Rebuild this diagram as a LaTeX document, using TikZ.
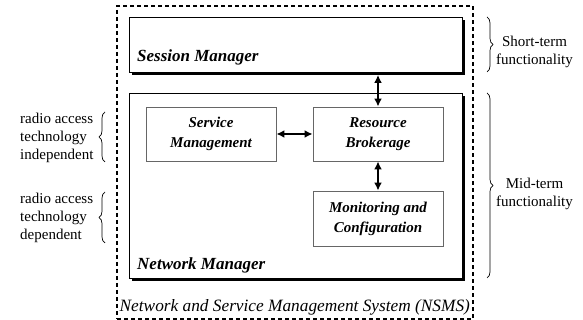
\documentclass[tikz,border=0pt]{standalone}
\usepackage{fontspec}
\setmainfont{Liberation Serif}
\usetikzlibrary{arrows.meta,decorations.pathreplacing,shadows}
\begin{document}
\begin{tikzpicture}[x=1pt,y=1pt,
  outerbox/.style={draw=black,line width=0.9pt,fill=white,inner sep=0pt,
    drop shadow={shadow xshift=3.2pt,shadow yshift=-3.2pt,opacity=1,fill=black}},
  innerbox/.style={draw=black!60,line width=0.9pt,fill=white,align=center,inner sep=0pt,
    font=\fontsize{15}{20}\selectfont\bfseries\itshape},
  boxlabel/.style={anchor=base west,inner sep=0pt,font=\fontsize{17}{20}\selectfont\bfseries\itshape},
  biarrow/.style={{Latex[length=8pt,width=8pt]}-{Latex[length=8pt,width=8pt]},line width=1.8pt},
  brc/.style={decorate,decoration={brace,amplitude=6pt},line width=0.7pt},
  sidetext/.style={font=\fontsize{15}{18}\selectfont,inner sep=0pt},
]
\useasboundingbox (0,0) rectangle (583,320);
% outer dashed system
\node[draw=black,line width=1.6pt,dash pattern=on 4pt off 3pt,minimum width=356pt,minimum height=313pt,inner sep=0pt] (nsms) at (295,157.5) {};
\node[anchor=base west,inner sep=0pt,font=\fontsize{17.3}{20}\selectfont\itshape] (nsmslbl) at (119.5,8) {Network and Service Management System (NSMS)};
% session manager
\node[outerbox,minimum width=333pt,minimum height=55pt] (ses) at (295.5,275.5) {};
\node[boxlabel] (seslbl) at (137,258) {Session Manager};
% network manager
\node[outerbox,minimum width=333pt,minimum height=185pt] (net) at (295.5,134.5) {};
\node[boxlabel] (netlbl) at (137,50) {Network Manager};
% inner boxes
\node[innerbox,minimum width=130pt,minimum height=54pt] (sm) at (211,186) {Service\\Management};
\node[innerbox,minimum width=130pt,minimum height=54pt] (rb) at (378,186) {Resource\\Brokerage};
\node[innerbox,minimum width=130pt,minimum height=55pt] (mc) at (378,101.5) {Monitoring and\\Configuration};
% arrows
\draw[biarrow] (sm.east) -- (rb.west);
\draw[biarrow,shorten <=2.5pt] (rb.north |- ses.south) -- (rb.north);
\draw[biarrow] (rb.south) -- (mc.north);
% right braces
\coordinate (sb1) at (487,303);
\coordinate (sb2) at (487,248);
\draw[brc] (sb1) -- (sb2);
\node[sidetext,align=center,anchor=west] (short) at (496,268) {Short-term\\functionality};
\coordinate (mb1) at (487,227);
\coordinate (mb2) at (487,42);
\draw[brc] (mb1) -- (mb2);
\node[sidetext,align=center,anchor=west] (mid) at (496,126) {Mid-term\\functionality};
% left braces
\coordinate (lb1) at (105,158);
\coordinate (lb2) at (105,208);
\draw[brc] (lb1) -- (lb2);
\node[sidetext,align=left,anchor=west] (indep) at (20,182) {radio access\\technology\\independent};
\coordinate (lb3) at (105,77);
\coordinate (lb4) at (105,128);
\draw[brc] (lb3) -- (lb4);
\node[sidetext,align=left,anchor=west] (dep) at (20,102) {radio access\\technology\\dependent};
\end{tikzpicture}
\end{document}
